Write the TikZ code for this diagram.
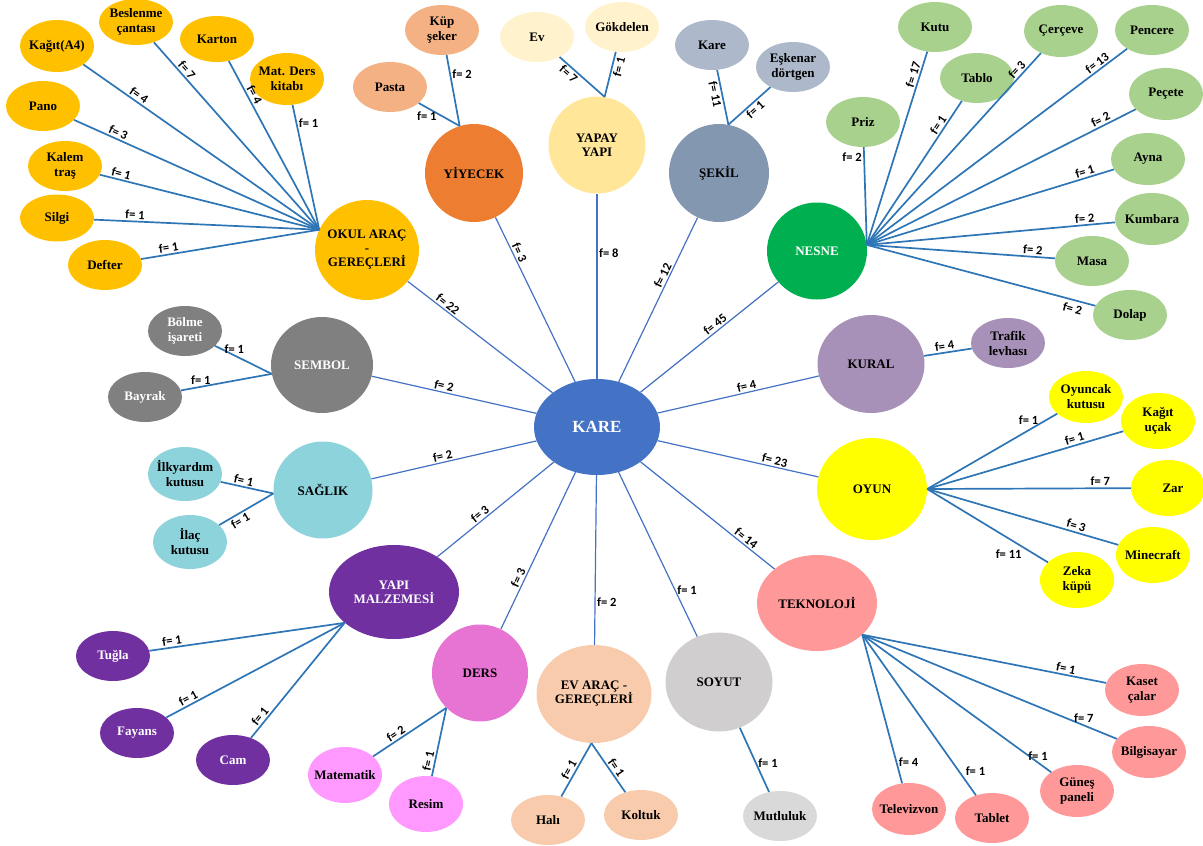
\documentclass[tikz,border=0pt]{standalone}
\usepackage{fontspec}
\setmainfont{Liberation Serif}
\newfontfamily\lblfont{Carlito}
\usepackage{tikz}
\usetikzlibrary{shapes.geometric}
\definecolor{karecol}{HTML}{4472C4}
\definecolor{okulcol}{HTML}{FFC000}
\definecolor{yiyecekcol}{HTML}{ED7D31}
\definecolor{yiyleafcol}{HTML}{F4B183}
\definecolor{yapaycol}{HTML}{FFE699}
\definecolor{yapayleafcol}{HTML}{FFF2CC}
\definecolor{sekilcol}{HTML}{8497B0}
\definecolor{sekilleafcol}{HTML}{ADB9CA}
\definecolor{nesnecol}{HTML}{00B050}
\definecolor{nesneleafcol}{HTML}{A9D18E}
\definecolor{kuralcol}{HTML}{A891B9}
\definecolor{oyuncol}{HTML}{FFFF00}
\definecolor{teknocol}{HTML}{FF9999}
\definecolor{soyutcol}{HTML}{D0CECE}
\definecolor{soyutleafcol}{HTML}{D9D9D9}
\definecolor{evcol}{HTML}{F8CBAD}
\definecolor{derscol}{HTML}{E773D2}
\definecolor{dersleafcol}{HTML}{FF99FF}
\definecolor{yapicol}{HTML}{7030A0}
\definecolor{saglikcol}{HTML}{8DD3DC}
\definecolor{sembolcol}{HTML}{808080}
\definecolor{twigcol}{HTML}{2E75B6}

\begin{document}
\begin{tikzpicture}[
  x=1pt, y=-1pt,
  topic/.style={ellipse, inner sep=-4pt, align=center,
                font=\bfseries\fontsize{13}{14}\selectfont},
  leaf/.style={ellipse, minimum width=74pt, minimum height=50pt, inner sep=-8pt,
               align=center, font=\bfseries\fontsize{13}{15}\selectfont},
  link/.style={draw=karecol, line width=1.2pt},
  twig/.style={draw=twigcol, line width=1.7pt},
  flab/.style={font=\lblfont\bfseries\fontsize{12.5}{13}\selectfont, inner sep=1.5pt}
]
  \useasboundingbox (0,0) rectangle (1203,846);

  % Center
  \node[topic, fill=karecol, text=white, minimum width=126pt, minimum height=96pt,
        font=\bfseries\fontsize{17}{18}\selectfont] (kare) at (597,427) {KARE};

  % Categories
  \node[topic, fill=okulcol, minimum width=104pt, minimum height=100pt]
    (okul) at (367,250) {OKUL ARAÇ\\-\\GEREÇLERİ};
  \node[topic, fill=yiyecekcol, minimum width=98pt, minimum height=98pt]
    (yiyecek) at (474,173) {YİYECEK};
  \node[topic, fill=yapaycol, minimum width=97pt, minimum height=97pt]
    (yapay) at (597,145) {YAPAY\\YAPI};
  \node[topic, fill=sekilcol, minimum width=100pt, minimum height=98pt]
    (sekil) at (719,173) {ŞEKİL};
  \node[topic, fill=nesnecol, text=white, minimum width=100pt, minimum height=97pt]
    (nesne) at (817,251) {NESNE};
  \node[topic, fill=kuralcol, minimum width=107pt, minimum height=98pt]
    (kural) at (871,364) {KURAL};
  \node[topic, fill=oyuncol, minimum width=110pt, minimum height=102pt]
    (oyun) at (872,489) {OYUN};
  \node[topic, fill=teknocol, minimum width=120pt, minimum height=96pt]
    (tekno) at (817,603) {TEKNOLOJİ};
  \node[topic, fill=soyutcol, minimum width=107pt, minimum height=99pt]
    (soyut) at (719,682) {SOYUT};
  \node[topic, fill=evcol, minimum width=115pt, minimum height=98pt]
    (ev) at (594,694) {EV ARAÇ -\\GEREÇLERİ};
  \node[topic, fill=derscol, minimum width=96pt, minimum height=97pt]
    (ders) at (480,673) {DERS};
  \node[topic, fill=yapicol, text=white, minimum width=130pt, minimum height=94pt]
    (yapi) at (394,592) {YAPI\\MALZEMESİ};
  \node[topic, fill=saglikcol, minimum width=99pt, minimum height=97pt]
    (saglik) at (323,490) {SAĞLIK};
  \node[topic, fill=sembolcol, text=white, minimum width=102pt, minimum height=96pt]
    (sembol) at (322,365) {SEMBOL};

  % Okul leaves
  \node[leaf, fill=okulcol, minimum height=52pt] (kagit) at (57,46) {Kağıt(A4)};
  \node[leaf, fill=okulcol, minimum height=46pt] (beslenme) at (136,22) {Beslenme\\çantası};
  \node[leaf, fill=okulcol, minimum height=46pt] (karton) at (217,39) {Karton};
  \node[leaf, fill=okulcol, minimum height=52pt] (matders) at (287,79) {Mat. Ders\\kitabı};
  \node[leaf, fill=okulcol] (pano) at (43,106) {Pano};
  \node[leaf, fill=okulcol] (kalem) at (65,166) {Kalem\\traş};
  \node[leaf, fill=okulcol, minimum height=47pt] (silgi) at (57,218) {Silgi};
  \node[leaf, fill=okulcol] (defter) at (105,265) {Defter};

  % Yiyecek leaves
  \node[leaf, fill=yiyleafcol] (kupseker) at (442,30) {Küp\\şeker};
  \node[leaf, fill=yiyleafcol] (pasta) at (390,87) {Pasta};

  % Yapay yapi leaves
  \node[leaf, fill=yapayleafcol] (evleaf) at (537,37) {Ev};
  \node[leaf, fill=yapayleafcol] (gokdelen) at (622,27) {Gökdelen};

  % Sekil leaves
  \node[leaf, fill=sekilleafcol] (kareleaf) at (712,45) {Kare};
  \node[leaf, fill=sekilleafcol] (eskenar) at (793,67) {Eşkenar\\dörtgen};

  % Nesne leaves
  \node[leaf, fill=nesneleafcol] (priz) at (863,122) {Priz};
  \node[leaf, fill=nesneleafcol] (kutu) at (935,27) {Kutu};
  \node[leaf, fill=nesneleafcol] (tablo) at (977,78) {Tablo};
  \node[leaf, fill=nesneleafcol, minimum height=52pt] (cerceve) at (1061,31) {Çerçeve};
  \node[leaf, fill=nesneleafcol] (pencere) at (1152,30) {Pencere};
  \node[leaf, fill=nesneleafcol, minimum height=52pt] (pecete) at (1166,94) {Peçete};
  \node[leaf, fill=nesneleafcol, minimum height=52pt] (ayna) at (1148,159) {Ayna};
  \node[leaf, fill=nesneleafcol, minimum height=52pt] (kumbara) at (1152,219) {Kumbara};
  \node[leaf, fill=nesneleafcol] (masa) at (1092,261) {Masa};
  \node[leaf, fill=nesneleafcol] (dolap) at (1130,315) {Dolap};

  % Kural leaf
  \node[leaf, fill=kuralcol] (trafik) at (1008,343) {Trafik\\levhası};

  % Oyun leaves
  \node[leaf, fill=oyuncol, minimum height=52pt] (oyuncak) at (1086,397) {Oyuncak\\kutusu};
  \node[leaf, fill=oyuncol, minimum height=56pt] (kagitucak) at (1158,421) {Kağıt\\uçak};
  \node[leaf, fill=oyuncol, minimum height=56pt] (zar) at (1168,488) {\hspace*{10pt}Zar};
  \node[leaf, fill=oyuncol, minimum height=56pt] (minecraft) at (1153,555) {Minecraft};
  \node[leaf, fill=oyuncol, minimum height=56pt] (zeka) at (1077,580) {Zeka\\küpü};

  % Teknoloji leaves
  \node[leaf, fill=teknocol, minimum height=52pt] (kaset) at (1142,690) {Kaset\\çalar};
  \node[leaf, fill=teknocol, minimum height=52pt] (bilgisayar) at (1149,752) {Bilgisayar};
  \node[leaf, fill=teknocol, minimum height=52pt] (gunes) at (1077,791) {Güneş\\paneli};
  \node[leaf, fill=teknocol] (tablet) at (992,818) {Tablet};
  \node[leaf, fill=teknocol, minimum height=52pt] (televizvon) at (909,809) {Televizvon};

  % Soyut leaf
  \node[leaf, fill=soyutleafcol] (mutluluk) at (780,816) {Mutluluk};

  % Ev arac leaves
  \node[leaf, fill=evcol] (hali) at (548,820) {Halı};
  \node[leaf, fill=evcol] (koltuk) at (641,815) {Koltuk};

  % Ders leaves
  \node[leaf, fill=dersleafcol, minimum height=56pt] (matematik) at (345,775) {Matematik};
  \node[leaf, fill=dersleafcol, minimum height=56pt] (resim) at (426,804) {Resim};

  % Yapi malzemesi leaves
  \node[leaf, fill=yapicol, text=white] (tugla) at (113,656) {Tuğla};
  \node[leaf, fill=yapicol, text=white] (fayans) at (137,733) {Fayans};
  \node[leaf, fill=yapicol, text=white] (cam) at (233,760) {Cam};

  % Saglik leaves
  \node[leaf, fill=saglikcol, minimum height=54pt] (ilkyardim) at (185,474) {İlkyardım\\kutusu};
  \node[leaf, fill=saglikcol, minimum height=54pt] (ilac) at (190,542) {İlaç\\kutusu};

  % Sembol leaves
  \node[leaf, fill=sembolcol, text=white] (bolme) at (185,331) {Bölme\\işareti};
  \node[leaf, fill=sembolcol, text=white] (bayrak) at (145,397) {Bayrak};

  % Hubs on the category borders
  \coordinate (okulhub) at (okul.157);
  \coordinate (yiyhub) at (yiyecek.107);
  \coordinate (yapayhub) at (yapay.81);
  \coordinate (sekilhub) at (sekil.79);
  \coordinate (nesnehub) at (nesne.7);
  \coordinate (oyunhub) at (oyun.east);
  \coordinate (teknohub) at (tekno.325);
  \coordinate (evhub) at (ev.267);
  \coordinate (dershub) at (ders.226);
  \coordinate (yapihub) at (yapi.212);
  \coordinate (saglikhub) at (saglik.184);
  \coordinate (sembolhub) at (sembol.190);

  % Links from the center
  \draw[link] (kare) -- (okul) node[flab, pos=0.75, sloped, above] {f= 22};
  \draw[link] (kare) -- (yiyecek) node[flab, pos=0.77, sloped, above] {f= 3};
  \draw[link] (kare) -- (yapay) node[flab, pos=0.68, right] {f= 8};
  \draw[link] (kare) -- (sekil) node[flab, pos=0.63, sloped, above] {f= 12};
  \draw[link] (kare) -- (nesne) node[flab, pos=0.57, sloped, above] {f= 45};
  \draw[link] (kare) -- (kural) node[flab, pos=0.56, sloped, above] {f= 4};
  \draw[link] (kare) -- (oyun) node[flab, pos=0.72, sloped, above] {f= 23};
  \draw[link] (kare) -- (tekno) node[flab, pos=0.76, sloped, above] {f= 14};
  \draw[link] (kare) -- (soyut) node[flab, pos=0.72, right] {f= 1};
  \draw[link] (kare) -- (ev) node[flab, pos=0.75, right] {f= 2};
  \draw[link] (kare) -- (ders) node[flab, pos=0.69, sloped, above] {f= 3};
  \draw[link] (kare) -- (yapi) node[flab, pos=0.6, sloped, above] {f= 3};
  \draw[link] (kare) -- (saglik) node[flab, pos=0.56, sloped, above] {f= 2};
  \draw[link] (kare) -- (sembol) node[flab, pos=0.57, sloped, above] {f= 2};

  % Okul twigs
  \draw[twig] (kagit) -- (okulhub) node[flab, pos=0.22, sloped, above] {f= 4};
  \draw[twig] (beslenme) -- (okulhub) node[flab, pos=0.17, sloped, above] {f= 7};
  \draw[twig] (karton) -- (okulhub) node[flab, pos=0.22, sloped, above] {f= 4};
  \draw[twig] (matders) -- (okulhub) node[flab, pos=0.15, right] {f= 1};
  \draw[twig] (pano) -- (okulhub) node[flab, pos=0.17, sloped, above] {f= 3};
  \draw[twig] (kalem) -- (okulhub) node[flab, pos=0.09, sloped, above] {f= 1};
  \draw[twig] (silgi) -- (okulhub) node[flab, pos=0.18, sloped, above] {f= 1};
  \draw[twig] (defter) -- (okulhub) node[flab, pos=0.16, sloped, above] {f= 1};

  % Yiyecek twigs
  \draw[twig] (kupseker) -- (yiyhub) node[flab, pos=0.27, right] {f= 2};
  \draw[twig] (pasta) -- (yiyhub) node[flab, pos=0.2, below=2pt] {f= 1};

  % Yapay yapi twigs
  \draw[twig] (evleaf) -- (yapayhub) node[flab, pos=0.3, sloped, below] {f= 7};
  \draw[twig] (gokdelen) -- (yapayhub) node[flab, pos=0.3, sloped, below] {f= 1};

  % Sekil twigs
  \draw[twig] (kareleaf) -- (sekilhub) node[flab, pos=0.42, sloped, below] {f= 11};
  \draw[twig] (eskenar) -- (sekilhub) node[flab, pos=0.47, sloped, below] {f= 1};

  % Nesne twigs
  \draw[twig] (priz) -- (nesnehub) node[flab, pos=0.1, left] {f= 2};
  \draw[twig] (kutu) -- (nesnehub) node[flab, pos=0.13, sloped, above] {f= 17};
  \draw[twig] (tablo) -- (nesnehub) node[flab, pos=0.19, sloped, above] {f= 1};
  \draw[twig] (cerceve) -- (nesnehub) node[flab, pos=0.11, sloped, above] {f= 3};
  \draw[twig] (pencere) -- (nesnehub) node[flab, pos=0.1, sloped, above] {f= 13};
  \draw[twig] (pecete) -- (nesnehub) node[flab, pos=0.12, sloped, above] {f= 2};
  \draw[twig] (ayna) -- (nesnehub) node[flab, pos=0.11, sloped, above] {f= 1};
  \draw[twig] (kumbara) -- (nesnehub) node[flab, pos=0.12, sloped, above] {f= 2};
  \draw[twig] (masa) -- (nesnehub) node[flab, pos=0.12, sloped, above] {f= 2};
  \draw[twig] (dolap) -- (nesnehub) node[flab, pos=0.09, sloped, below=2pt] {f= 2};

  % Kural twig
  \draw[twig] (kural) -- (trafik) node[flab, pos=0.45, sloped, above] {f= 4};

  % Oyun twigs
  \draw[twig] (oyuncak) -- (oyunhub) node[flab, pos=0.22, above=3pt] {f= 1};
  \draw[twig] (kagitucak) -- (oyunhub) node[flab, pos=0.24, sloped, above] {f= 1};
  \draw[twig] (zar) -- (oyunhub) node[flab, pos=0.15, above] {f= 7};
  \draw[twig] (minecraft) -- (oyunhub) node[flab, pos=0.23, sloped, above] {f= 3};
  \draw[twig] (zeka) -- (oyunhub) node[flab, pos=0.2, below left] {f= 11};

  % Teknoloji twigs
  \draw[twig] (kaset) -- (teknohub) node[flab, pos=0.17, sloped, above] {f= 1};
  \draw[twig] (bilgisayar) -- (teknohub) node[flab, pos=0.13, above] {f= 7};
  \draw[twig] (gunes) -- (teknohub) node[flab, pos=0.07, above] {f= 1};
  \draw[twig] (tablet) -- (teknohub) node[flab, pos=0.11, above right] {f= 1};
  \draw[twig] (televizvon) -- (teknohub) node[flab, pos=0.14, right] {f= 4};

  % Soyut twig
  \draw[twig] (soyut) -- (mutluluk) node[flab, pos=0.55, right] {f= 1};

  % Ev arac twigs
  \draw[twig] (hali) -- (evhub) node[flab, pos=0.44, sloped, above] {f= 1};
  \draw[twig] (koltuk) -- (evhub) node[flab, pos=0.42, sloped, above] {f= 1};

  % Ders twigs
  \draw[twig] (matematik) -- (dershub) node[flab, pos=0.36, sloped, above] {f= 2};
  \draw[twig] (resim) -- (dershub) node[flab, pos=0.2, sloped, above] {f= 1};

  % Yapi malzemesi twigs
  \draw[twig] (tugla) -- (yapihub) node[flab, pos=0.12, sloped, above] {f= 1};
  \draw[twig] (fayans) -- (yapihub) node[flab, pos=0.14, sloped, above] {f= 1};
  \draw[twig] (cam) -- (yapihub) node[flab, pos=0.15, sloped, above] {f= 1};

  % Saglik twigs
  \draw[twig] (ilkyardim) -- (saglikhub) node[flab, pos=0.41, sloped, above] {f= 1};
  \draw[twig] (ilac) -- (saglikhub) node[flab, pos=0.33, sloped, below] {f= 1};

  % Sembol twigs
  \draw[twig] (bolme) -- (sembolhub) node[flab, pos=0.34, above] {f= 1};
  \draw[twig] (bayrak) -- (sembolhub) node[flab, pos=0.22, above] {f= 1};
\end{tikzpicture}
\end{document}
